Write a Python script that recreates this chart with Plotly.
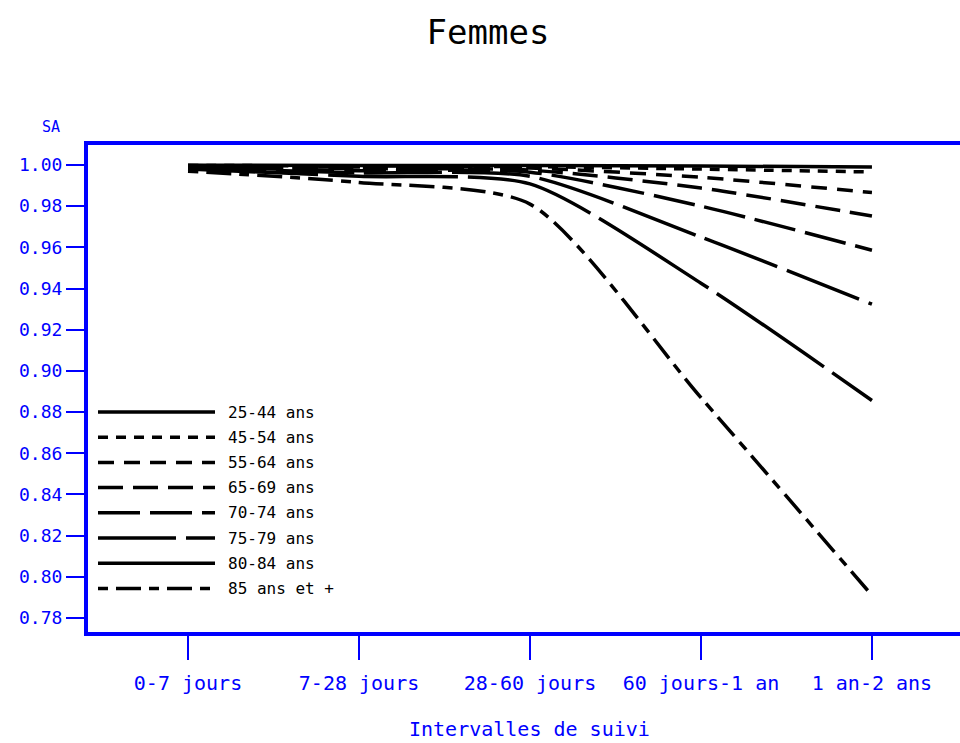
import plotly.graph_objects as go

# Follow-up intervals (x categories)
intervals = ["0-7 jours", "7-28 jours", "28-60 jours", "60 jours-1 an", "1 an-2 ans"]

# Survival (SA) by age group over the follow-up intervals
age_groups = ["25-44 ans", "45-54 ans", "55-64 ans", "65-69 ans",
              "70-74 ans", "75-79 ans", "80-84 ans", "85 ans et +"]
sa_25_44 = [0.9999, 0.9998, 0.9997, 0.9995, 0.9990]
sa_45_54 = [0.9998, 0.9995, 0.9992, 0.9980, 0.9966]
sa_55_64 = [0.9997, 0.9990, 0.9985, 0.9940, 0.9866]
sa_65_69 = [0.9995, 0.9982, 0.9975, 0.9888, 0.9752]
sa_70_74 = [0.9990, 0.9972, 0.9965, 0.9800, 0.9586]
sa_75_79 = [0.9985, 0.9962, 0.9945, 0.9650, 0.9324]
sa_80_84 = [0.9980, 0.9945, 0.9908, 0.9426, 0.8856]
sa_85 = [0.9970, 0.9915, 0.9810, 0.8870, 0.7910]
series = [sa_25_44, sa_45_54, sa_55_64, sa_65_69, sa_70_74, sa_75_79, sa_80_84, sa_85]

# Dash pattern for each age group
dashes = ["solid", "10px,8px", "16px,10px", "25px,10px",
          "42px,10px", "78px,10px", "130px,10px", "10px,8px,25px,8px"]

BLUE = "#0000FF"
FONT = "DejaVu Sans Mono"
W, H = 960, 743
L, R, T, B = 88, 0, 145, 111
plot_w, plot_h = W - L - R, H - T - B

fig = go.Figure()
xs = list(range(len(intervals)))
for name, ys, d in zip(age_groups, series, dashes):
    fig.add_trace(go.Scatter(
        x=xs, y=ys, name=name, mode="lines",
        line=dict(color="black", width=3.5, dash=d, shape="spline", smoothing=0.7),
        showlegend=False,
    ))

# Hand-built legend inside the plot area (long line samples show the dash patterns)
def px_x(px):
    return (px - L) / plot_w

def px_y(py):
    return (H - B - py) / plot_h

shapes = []
annotations = []
row0, row_step = 412, 25.2
for i, (name, d) in enumerate(zip(age_groups, dashes)):
    yy = px_y(row0 + i * row_step)
    shapes.append(dict(type="line", xref="paper", yref="paper",
                       x0=px_x(98), x1=px_x(215), y0=yy, y1=yy,
                       line=dict(color="black", width=3.5, dash=d)))
    annotations.append(dict(xref="paper", yref="paper", x=px_x(226), y=yy,
                            text=name, showarrow=False, xanchor="left", yanchor="middle",
                            font=dict(family=FONT, size=16, color="black")))

# Y-axis label above tick labels
annotations.append(dict(xref="paper", yref="paper", x=px_x(51), y=px_y(127),
                        text="SA", showarrow=False, xanchor="center", yanchor="middle",
                        font=dict(family=FONT, size=15, color=BLUE)))
# X-axis title
annotations.append(dict(xref="paper", yref="paper", x=px_x(529), y=px_y(729),
                        text="Intervalles de suivi", showarrow=False,
                        xanchor="center", yanchor="middle",
                        font=dict(family=FONT, size=20, color=BLUE)))

fig.update_layout(
    width=W, height=H,
    margin=dict(l=L, r=R, t=T, b=B, pad=0),
    paper_bgcolor="white", plot_bgcolor="white",
    title=dict(text="Femmes", x=488 / W, xref="container", xanchor="center",
               y=1 - 32 / H, yref="container", yanchor="middle",
               font=dict(family=FONT, size=34, color="black")),
    shapes=shapes, annotations=annotations,
    xaxis=dict(range=[-0.585, 4.515], tickmode="array", tickvals=xs, ticktext=intervals,
               showgrid=False, zeroline=False,
               showline=True, mirror=True, linecolor=BLUE, linewidth=4,
               ticks="outside", ticklen=24, tickwidth=2, tickcolor=BLUE,
               ticklabelstandoff=6,
               tickfont=dict(family=FONT, size=20, color=BLUE)),
    yaxis=dict(range=[0.7732, 1.0097], tick0=0.78, dtick=0.02, tickformat=".2f",
               showgrid=False, zeroline=False,
               showline=True, mirror=False, linecolor=BLUE, linewidth=4,
               ticks="outside", ticklen=18, tickwidth=2, tickcolor=BLUE,
               tickfont=dict(family=FONT, size=18, color=BLUE)),
)

fig.write_html("out.html")
